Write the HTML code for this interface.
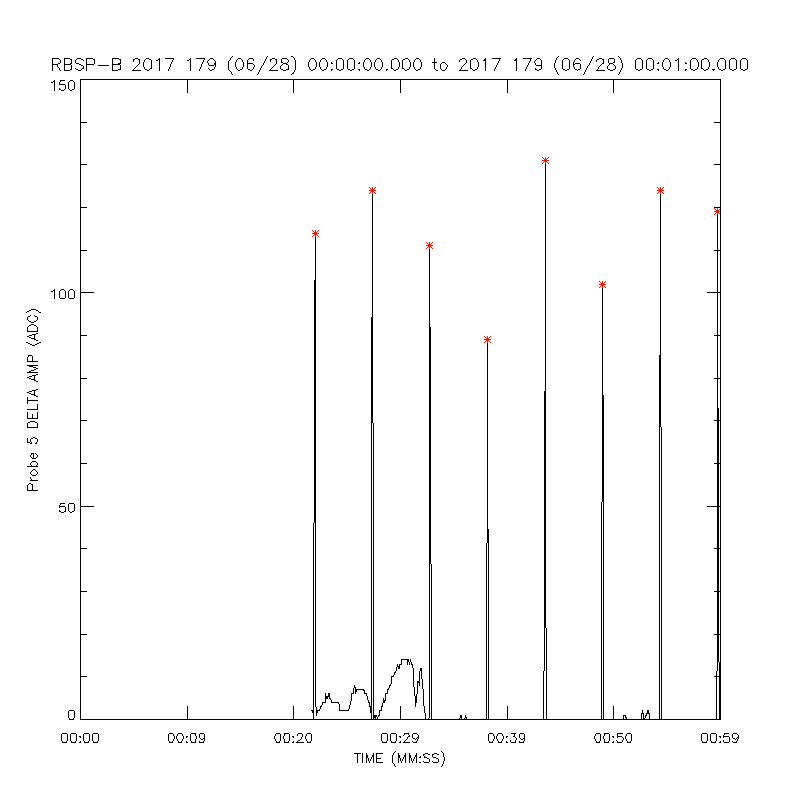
<!DOCTYPE html>
<html lang="en"><head><meta charset="utf-8"><title>RBSP-B 2017 179 (06/28) 00:00:00.000 to 2017 179 (06/28) 00:01:00.000</title>
<style>
html,body{margin:0;padding:0;background:#fff;}
body{width:800px;height:800px;position:relative;overflow:hidden;font-family:"Liberation Sans",sans-serif;}
svg{position:absolute;left:0;top:0;display:block;}
.t{position:absolute;color:transparent;font-size:11px;line-height:12px;text-align:center;white-space:nowrap;overflow:hidden;font-family:"Liberation Sans",sans-serif;}
</style></head><body>
<svg width="800" height="800" viewBox="0 0 800 800" shape-rendering="crispEdges">
<rect width="800" height="800" fill="#fff"/>
<path fill="#000" d="M232 56h1v1h-1zM267 56h1v1h-1zM291 56h2v1h-2zM558 56h1v1h-1zM593 56h1v1h-1zM618 56h1v1h-1zM231 57h1v1h-1zM266 57v2h1v-2zM293 57h1v1h-1zM557 57h1v1h-1zM592 57v2h1v-2zM619 57h1v1h-1zM52 58v13h1v-13zM53 58h6v1h-6zM64 58v13h1v-13zM65 58h5v1h-5zM77 58h4v1h-4zM86 58v13h1v-13zM87 58h6v1h-6zM112 58v13h1v-13zM113 58h6v1h-6zM135 58h3v1h-3zM146 58h3v1h-3zM159 58v13h1v-13zM165 58h9v1h-9zM190 58v13h1v-13zM196 58h9v1h-9zM210 58h3v1h-3zM230 58v2h1v-2zM238 58h3v1h-3zM249 58h4v1h-4zM272 58h3v1h-3zM282 58h5v1h-5zM294 58v2h1v-2zM311 58h3v1h-3zM322 58h3v1h-3zM338 58h4v1h-4zM349 58h4v1h-4zM366 58h3v1h-3zM377 58h3v1h-3zM394 58h3v1h-3zM405 58h3v1h-3zM416 58h3v1h-3zM434 58v11h1v-11zM462 58h3v1h-3zM473 58h3v1h-3zM485 58v13h1v-13zM492 58h9v1h-9zM516 58v13h1v-13zM523 58h9v1h-9zM537 58h3v1h-3zM556 58v2h1v-2zM564 58h4v1h-4zM576 58h3v1h-3zM599 58h3v1h-3zM609 58h5v1h-5zM620 58v2h1v-2zM637 58h4v1h-4zM648 58h4v1h-4zM665 58h3v1h-3zM678 58v13h1v-13zM692 58h4v1h-4zM704 58h3v1h-3zM720 58h4v1h-4zM731 58h4v1h-4zM742 58h4v1h-4zM59 59h1v1h-1zM70 59h2v1h-2zM76 59h1v1h-1zM81 59h2v1h-2zM93 59h2v1h-2zM119 59h2v1h-2zM133 59v3h1v-3zM134 59h1v1h-1zM138 59h2v1h-2zM145 59h1v1h-1zM149 59h2v1h-2zM158 59h1v1h-1zM173 59h1v1h-1zM189 59h1v1h-1zM204 59h1v1h-1zM209 59h1v1h-1zM213 59h1v1h-1zM237 59h1v1h-1zM241 59h1v1h-1zM248 59h1v1h-1zM253 59v2h1v-2zM265 59v2h1v-2zM270 59v3h1v-3zM271 59h1v1h-1zM275 59h2v1h-2zM281 59v4h1v-4zM287 59h1v1h-1zM310 59h1v1h-1zM314 59h1v1h-1zM321 59h1v1h-1zM325 59h1v1h-1zM337 59h1v1h-1zM342 59h1v1h-1zM348 59h1v1h-1zM353 59h1v1h-1zM365 59h1v1h-1zM369 59h1v1h-1zM376 59h1v1h-1zM380 59h1v1h-1zM392 59h2v1h-2zM397 59h1v1h-1zM403 59h2v1h-2zM408 59h1v1h-1zM415 59h1v1h-1zM419 59h1v1h-1zM460 59h2v1h-2zM465 59h1v1h-1zM471 59h2v1h-2zM476 59h1v1h-1zM484 59v2h1v-2zM499 59v2h1v-2zM515 59v2h1v-2zM530 59v2h1v-2zM536 59h1v1h-1zM540 59h1v1h-1zM563 59h1v1h-1zM568 59h1v1h-1zM575 59h1v1h-1zM579 59h1v1h-1zM591 59v2h1v-2zM597 59h2v1h-2zM602 59h2v1h-2zM608 59v4h1v-4zM614 59v4h1v-4zM636 59h1v1h-1zM641 59h1v1h-1zM647 59h1v1h-1zM652 59h1v1h-1zM664 59h1v1h-1zM668 59h1v1h-1zM677 59h1v1h-1zM691 59h1v1h-1zM696 59h1v1h-1zM702 59h2v1h-2zM707 59h1v1h-1zM719 59h1v1h-1zM724 59h1v1h-1zM730 59h1v1h-1zM735 59h1v1h-1zM741 59h1v1h-1zM746 59h1v1h-1zM60 60v3h1v-3zM71 60v4h1v-4zM75 60v3h1v-3zM83 60h1v1h-1zM94 60v4h1v-4zM120 60v4h1v-4zM139 60v4h1v-4zM144 60v2h1v-2zM151 60v9h1v-9zM156 60h2v1h-2zM172 60v2h1v-2zM187 60h2v1h-2zM203 60v2h1v-2zM208 60h1v1h-1zM214 60h1v1h-1zM229 60h1v1h-1zM236 60v2h1v-2zM242 60v2h1v-2zM247 60v9h1v-9zM276 60v4h1v-4zM288 60v2h1v-2zM295 60v10h1v-10zM309 60v2h1v-2zM315 60v2h1v-2zM320 60v2h1v-2zM326 60v2h1v-2zM336 60v9h1v-9zM343 60v9h1v-9zM347 60v9h1v-9zM354 60v9h1v-9zM364 60v2h1v-2zM370 60v2h1v-2zM375 60v2h1v-2zM381 60v2h1v-2zM391 60v9h1v-9zM398 60v2h1v-2zM402 60v9h1v-9zM409 60v2h1v-2zM414 60v2h1v-2zM420 60v2h1v-2zM459 60v2h1v-2zM466 60v3h1v-3zM470 60v9h1v-9zM477 60v2h1v-2zM483 60h1v1h-1zM514 60h1v1h-1zM535 60h1v1h-1zM541 60v9h1v-9zM555 60v3h1v-3zM562 60v9h1v-9zM569 60v9h1v-9zM574 60v2h1v-2zM580 60h1v1h-1zM596 60v2h1v-2zM603 60v4h1v-4zM621 60v3h1v-3zM635 60v9h1v-9zM642 60v9h1v-9zM646 60v9h1v-9zM653 60v9h1v-9zM663 60v2h1v-2zM669 60v2h1v-2zM675 60h2v1h-2zM690 60v9h1v-9zM697 60v2h1v-2zM701 60v9h1v-9zM708 60v2h1v-2zM718 60v2h1v-2zM725 60v9h1v-9zM729 60v9h1v-9zM736 60v9h1v-9zM740 60v9h1v-9zM747 60v9h1v-9zM207 61v2h1v-2zM215 61v6h1v-6zM228 61v9h1v-9zM264 61v2h1v-2zM498 61v2h1v-2zM529 61v2h1v-2zM534 61v2h1v-2zM590 61v2h1v-2zM143 62v5h1v-5zM171 62v2h1v-2zM202 62v2h1v-2zM235 62v5h1v-5zM243 62v5h1v-5zM282 62h1v1h-1zM287 62h1v1h-1zM308 62v5h1v-5zM316 62v5h1v-5zM319 62v5h1v-5zM327 62v5h1v-5zM331 62v2h1v-2zM359 62v2h1v-2zM363 62v5h1v-5zM371 62v5h1v-5zM374 62v5h1v-5zM382 62v5h1v-5zM399 62v5h1v-5zM410 62v5h1v-5zM413 62v5h1v-5zM421 62v5h1v-5zM432 62h2v1h-2zM435 62h2v1h-2zM442 62h3v1h-3zM478 62v5h1v-5zM573 62v5h1v-5zM613 62h1v1h-1zM658 62v2h1v-2zM662 62v5h1v-5zM670 62v5h1v-5zM685 62v2h1v-2zM698 62v5h1v-5zM709 62v5h1v-5zM717 62v5h1v-5zM58 63h2v1h-2zM70 63v2h1v-2zM76 63h3v1h-3zM118 63h2v1h-2zM208 63v2h1v-2zM214 63v2h1v-2zM248 63h5v1h-5zM263 63v2h1v-2zM283 63h4v1h-4zM332 63h1v1h-1zM358 63h1v1h-1zM441 63h1v1h-1zM445 63h1v1h-1zM465 63h1v1h-1zM497 63v2h1v-2zM528 63v2h1v-2zM535 63v2h1v-2zM554 63v5h1v-5zM575 63h5v1h-5zM589 63v2h1v-2zM602 63h1v1h-1zM609 63h4v1h-4zM622 63v5h1v-5zM657 63h1v1h-1zM686 63h1v1h-1zM53 64h5v1h-5zM65 64h5v1h-5zM79 64h2v1h-2zM87 64h7v1h-7zM113 64h7v1h-7zM138 64h1v1h-1zM170 64v3h1v-3zM201 64v3h1v-3zM253 64h1v1h-1zM275 64h1v1h-1zM282 64h1v1h-1zM286 64h2v1h-2zM440 64v5h1v-5zM446 64h1v1h-1zM464 64h1v1h-1zM574 64h1v1h-1zM580 64v5h1v-5zM601 64h1v1h-1zM609 64h1v1h-1zM613 64h1v1h-1zM57 65v2h1v-2zM71 65v5h1v-5zM81 65h2v1h-2zM98 65h11v1h-11zM120 65v5h1v-5zM137 65h1v1h-1zM209 65h5v1h-5zM254 65v2h1v-2zM262 65h1v1h-1zM274 65h1v1h-1zM281 65h1v1h-1zM288 65v5h1v-5zM447 65v2h1v-2zM463 65h1v1h-1zM496 65v2h1v-2zM527 65v2h1v-2zM536 65h5v1h-5zM588 65h1v1h-1zM600 65h1v1h-1zM608 65h1v1h-1zM614 65h1v1h-1zM83 66v3h1v-3zM136 66h1v1h-1zM261 66v2h1v-2zM273 66h1v1h-1zM280 66v3h1v-3zM462 66h1v1h-1zM587 66v2h1v-2zM599 66h1v1h-1zM607 66v3h1v-3zM615 66v3h1v-3zM58 67h1v1h-1zM135 67h1v1h-1zM144 67v2h1v-2zM169 67v2h1v-2zM200 67v2h1v-2zM214 67v2h1v-2zM236 67v2h1v-2zM242 67v2h1v-2zM253 67v2h1v-2zM272 67h1v1h-1zM309 67v2h1v-2zM315 67v2h1v-2zM320 67v2h1v-2zM326 67v2h1v-2zM364 67v2h1v-2zM370 67v2h1v-2zM375 67v2h1v-2zM381 67v2h1v-2zM398 67v2h1v-2zM409 67v2h1v-2zM414 67v2h1v-2zM420 67v2h1v-2zM446 67v2h1v-2zM461 67v2h1v-2zM477 67v2h1v-2zM495 67v2h1v-2zM526 67v2h1v-2zM574 67v2h1v-2zM598 67v2h1v-2zM663 67v2h1v-2zM669 67v2h1v-2zM697 67v2h1v-2zM708 67v2h1v-2zM718 67v2h1v-2zM59 68v2h1v-2zM75 68h1v1h-1zM82 68h1v1h-1zM134 68h1v1h-1zM150 68h1v1h-1zM208 68h1v1h-1zM260 68v2h1v-2zM271 68h1v1h-1zM392 68h1v1h-1zM403 68h1v1h-1zM471 68h1v1h-1zM535 68v2h1v-2zM555 68v2h1v-2zM586 68v2h1v-2zM621 68v2h1v-2zM702 68h1v1h-1zM70 69h1v1h-1zM76 69h2v1h-2zM81 69h1v1h-1zM118 69h2v1h-2zM133 69v2h1v-2zM145 69h2v1h-2zM149 69h1v1h-1zM168 69v2h1v-2zM199 69v2h1v-2zM209 69h1v1h-1zM212 69h2v1h-2zM237 69h1v1h-1zM240 69h2v1h-2zM248 69h2v1h-2zM252 69h1v1h-1zM270 69v2h1v-2zM281 69h2v1h-2zM286 69h2v1h-2zM310 69h1v1h-1zM313 69h2v1h-2zM321 69h1v1h-1zM324 69h2v1h-2zM331 69h2v1h-2zM337 69h2v1h-2zM341 69h2v1h-2zM348 69h2v1h-2zM352 69h2v1h-2zM358 69h2v1h-2zM365 69h2v1h-2zM369 69h1v1h-1zM376 69h2v1h-2zM380 69h1v1h-1zM386 69h2v1h-2zM393 69h1v1h-1zM396 69h2v1h-2zM404 69h1v1h-1zM407 69h2v1h-2zM415 69h1v1h-1zM418 69h2v1h-2zM435 69h1v1h-1zM441 69h1v1h-1zM445 69h1v1h-1zM460 69v2h1v-2zM472 69h1v1h-1zM475 69h2v1h-2zM494 69v2h1v-2zM525 69v2h1v-2zM536 69h1v1h-1zM539 69h2v1h-2zM563 69h2v1h-2zM567 69h2v1h-2zM575 69h2v1h-2zM578 69h2v1h-2zM597 69v2h1v-2zM608 69h2v1h-2zM613 69h2v1h-2zM636 69h2v1h-2zM640 69h2v1h-2zM647 69h2v1h-2zM651 69h2v1h-2zM657 69h2v1h-2zM664 69h2v1h-2zM668 69h1v1h-1zM685 69h2v1h-2zM691 69h2v1h-2zM695 69h2v1h-2zM703 69h1v1h-1zM706 69h2v1h-2zM712 69h3v1h-3zM719 69h2v1h-2zM723 69h2v1h-2zM730 69h2v1h-2zM734 69h2v1h-2zM741 69h2v1h-2zM745 69h2v1h-2zM60 70h1v1h-1zM65 70h5v1h-5zM78 70h3v1h-3zM113 70h5v1h-5zM132 70h1v1h-1zM134 70h7v1h-7zM147 70h2v1h-2zM210 70h2v1h-2zM229 70h1v1h-1zM238 70h2v1h-2zM250 70h2v1h-2zM259 70v2h1v-2zM269 70h1v1h-1zM271 70h7v1h-7zM283 70h3v1h-3zM294 70v2h1v-2zM311 70h2v1h-2zM322 70h2v1h-2zM331 70h1v1h-1zM339 70h2v1h-2zM350 70h2v1h-2zM359 70h1v1h-1zM367 70h2v1h-2zM378 70h2v1h-2zM386 70h1v1h-1zM394 70h2v1h-2zM405 70h2v1h-2zM416 70h2v1h-2zM436 70h2v1h-2zM442 70h3v1h-3zM459 70h1v1h-1zM461 70h7v1h-7zM473 70h2v1h-2zM537 70h2v1h-2zM556 70v2h1v-2zM565 70h2v1h-2zM577 70h1v1h-1zM585 70v2h1v-2zM596 70h1v1h-1zM598 70h7v1h-7zM610 70h3v1h-3zM620 70v2h1v-2zM638 70h2v1h-2zM649 70h2v1h-2zM658 70h1v1h-1zM666 70h2v1h-2zM685 70h1v1h-1zM693 70h2v1h-2zM704 70h2v1h-2zM713 70h1v1h-1zM721 70h2v1h-2zM732 70h2v1h-2zM743 70h2v1h-2zM230 71h1v1h-1zM231 72v2h1v-2zM258 72v2h1v-2zM293 72v2h1v-2zM557 72v2h1v-2zM584 72v2h1v-2zM619 72v2h1v-2zM292 73h1v1h-1zM232 74h1v1h-1zM257 74h1v1h-1zM291 74h1v1h-1zM558 74h1v1h-1zM583 74h1v1h-1zM618 74h1v1h-1zM80 79h641v1h-641zM54 80v11h1v-11zM60 80h5v1h-5zM70 80h3v1h-3zM80 80v640h1v-640zM187 80v13h1v-13zM293 80v13h1v-13zM400 80v13h1v-13zM507 80v13h1v-13zM613 80v13h1v-13zM720 80v640h1v-640zM53 81h1v1h-1zM60 81h1v1h-1zM69 81h1v1h-1zM73 81h1v1h-1zM51 82h2v1h-2zM59 82v3h1v-3zM68 82v7h1v-7zM74 82v7h1v-7zM60 84h5v1h-5zM65 85v4h1v-4zM59 88v2h1v-2zM60 89h1v1h-1zM64 89h1v1h-1zM69 89h1v1h-1zM72 89h2v1h-2zM61 90h3v1h-3zM70 90h2v1h-2zM81 122h6v1h-6zM714 122h6v1h-6zM81 164h6v1h-6zM545 164v464h1v-464zM714 164h6v1h-6zM372 194v229h1v-229zM660 194v233h1v-233zM81 207h6v1h-6zM714 207h6v1h-6zM717 215v456h1v-456zM315 237v470h1v-470zM429 249v469h1v-469zM81 250h6v1h-6zM714 250h3v1h-3zM718 250h2v1h-2zM314 280v243h1v-243zM602 288v214h1v-214zM54 289v10h1v-10zM61 289h3v1h-3zM70 289h3v1h-3zM53 290h1v1h-1zM60 290h1v1h-1zM64 290h1v1h-1zM69 290h1v1h-1zM73 290h1v1h-1zM51 291h2v1h-2zM59 291v7h1v-7zM65 291v7h1v-7zM68 291v7h1v-7zM74 291v7h1v-7zM81 292h13v1h-13zM707 292h10v1h-10zM718 292h2v1h-2zM60 298h5v1h-5zM69 298h5v1h-5zM31 309h5v1h-5zM29 310h2v1h-2zM36 310h2v1h-2zM27 311h2v1h-2zM38 311h1v1h-1zM26 312h1v1h-1zM39 312h2v1h-2zM30 315h1v1h-1zM34 315h1v1h-1zM28 316h2v1h-2zM35 316h2v1h-2zM27 317v3h1v-3zM37 317v3h1v-3zM371 317v403h1v-403zM28 320h1v1h-1zM36 320h1v1h-1zM29 321h2v1h-2zM34 321h2v1h-2zM31 322h3v1h-3zM31 324h3v1h-3zM29 325h2v1h-2zM34 325h2v1h-2zM28 326h1v1h-1zM36 326h1v1h-1zM27 327v5h1v-5zM37 327v5h1v-5zM430 327v237h1v-237zM28 331h9v1h-9zM36 333h2v1h-2zM32 334h4v1h-4zM29 335h3v1h-3zM34 335v5h1v-5zM81 335h6v1h-6zM714 335h3v1h-3zM718 335h2v1h-2zM27 336h2v1h-2zM29 337h2v1h-2zM31 338h3v1h-3zM35 339h1v1h-1zM36 340h2v1h-2zM26 342h2v1h-2zM39 342h2v1h-2zM28 343h2v1h-2zM37 343h2v1h-2zM487 343v200h1v-200zM30 344h2v1h-2zM35 344h2v1h-2zM32 345h3v1h-3zM28 355h4v1h-4zM659 355v365h1v-365zM28 356h1v1h-1zM32 356v6h1v-6zM27 357v5h1v-5zM28 361h4v1h-4zM33 361h5v1h-5zM27 365h11v1h-11zM29 366h4v1h-4zM33 367h3v1h-3zM36 368h2v1h-2zM34 369h2v1h-2zM31 370h3v1h-3zM29 371h2v1h-2zM27 372h11v1h-11zM36 374h2v1h-2zM32 375h4v1h-4zM29 376h3v1h-3zM34 376v5h1v-5zM27 377h2v1h-2zM29 378h2v1h-2zM81 378h6v1h-6zM714 378h3v1h-3zM718 378h2v1h-2zM31 379h3v1h-3zM35 380h1v1h-1zM36 381h2v1h-2zM36 389h2v1h-2zM32 390h4v1h-4zM29 391h3v1h-3zM34 391v5h1v-5zM544 391v280h1v-280zM27 392h2v1h-2zM29 393h2v1h-2zM31 394h3v1h-3zM35 395h1v1h-1zM603 395v325h1v-325zM36 396h2v1h-2zM27 397v7h1v-7zM28 400h10v1h-10zM37 404v6h1v-6zM718 408v254h1v-254zM27 409h10v1h-10zM27 412v7h1v-7zM37 412v7h1v-7zM32 414v5h1v-5zM28 418h4v1h-4zM33 418h4v1h-4zM81 420h6v1h-6zM714 420h3v1h-3zM719 420h1v1h-1zM30 421h5v1h-5zM28 422h2v1h-2zM35 422h2v1h-2zM27 423v5h1v-5zM37 423v5h1v-5zM373 423v297h1v-297zM28 427h9v1h-9zM661 427v293h1v-293zM33 437h2v1h-2zM27 438v5h1v-5zM31 438h2v1h-2zM35 438h2v1h-2zM30 439v3h1v-3zM37 439v3h1v-3zM28 442h2v1h-2zM31 442v2h1v-2zM36 442v2h1v-2zM30 443h1v1h-1zM35 443h1v1h-1zM31 453h3v1h-3zM35 453h1v1h-1zM31 454h1v1h-1zM33 454v5h1v-5zM36 454h1v1h-1zM30 455v2h1v-2zM37 455v2h1v-2zM31 457h1v1h-1zM36 457h1v1h-1zM32 458h1v1h-1zM34 458h2v1h-2zM32 461h4v1h-4zM31 462h1v1h-1zM36 462h1v1h-1zM30 463v2h1v-2zM37 463v2h1v-2zM81 463h6v1h-6zM714 463h3v1h-3zM719 463h1v1h-1zM31 465v2h1v-2zM36 465v2h1v-2zM27 466h4v1h-4zM32 466h4v1h-4zM37 466h1v1h-1zM33 469h2v1h-2zM32 470h1v1h-1zM35 470h1v1h-1zM31 471h1v1h-1zM36 471h1v1h-1zM30 472v2h1v-2zM37 472v2h1v-2zM31 474h1v1h-1zM36 474h1v1h-1zM32 475h4v1h-4zM30 477v2h1v-2zM31 479v2h1v-2zM30 480h1v1h-1zM32 480h6v1h-6zM29 483h2v1h-2zM28 484h1v1h-1zM31 484h2v1h-2zM27 485v6h1v-6zM32 485v6h1v-6zM28 490h4v1h-4zM33 490h5v1h-5zM601 502v218h1v-218zM60 503h5v1h-5zM69 503h5v1h-5zM60 504h1v1h-1zM68 504v7h1v-7zM74 504v7h1v-7zM59 505v3h1v-3zM60 506h5v1h-5zM81 506h13v1h-13zM707 506h10v1h-10zM719 506h1v1h-1zM65 507v5h1v-5zM59 510v2h1v-2zM60 511h1v1h-1zM64 511h1v1h-1zM69 511h1v1h-1zM72 511h2v1h-2zM61 512h3v1h-3zM70 512h2v1h-2zM313 523v197h1v-197zM488 529v191h1v-191zM486 543v177h1v-177zM81 548h6v1h-6zM714 548h3v1h-3zM719 548h1v1h-1zM431 564v156h1v-156zM81 591h6v1h-6zM714 591h3v1h-3zM719 591h1v1h-1zM546 628v92h1v-92zM81 634h6v1h-6zM714 634h3v1h-3zM719 634h1v1h-1zM401 659h8v1h-8zM410 659v3h1v-3zM401 660v5h1v-5zM407 660v5h1v-5zM408 660v2h1v-2zM409 662v3h1v-3zM411 662v3h1v-3zM719 662v58h1v-58zM397 664v3h1v-3zM399 664v5h1v-5zM400 664h1v1h-1zM412 664v4h1v-4zM398 666v3h1v-3zM396 667v4h1v-4zM413 668v19h1v-19zM420 668v3h1v-3zM421 668v11h1v-11zM395 671v2h1v-2zM419 671v15h1v-15zM543 671v49h1v-49zM716 671v49h1v-49zM394 672v3h1v-3zM393 675v2h1v-2zM81 676h6v1h-6zM391 676v8h1v-8zM392 676h1v1h-1zM714 676h2v1h-2zM717 676h2v1h-2zM422 679v10h1v-10zM417 681v13h1v-13zM418 681v2h1v-2zM390 684v2h1v-2zM354 685v3h1v-3zM389 685v3h1v-3zM355 687v7h1v-7zM414 687v9h1v-9zM353 688v6h1v-6zM388 688v2h1v-2zM356 689h8v1h-8zM387 689v5h1v-5zM423 689v17h1v-17zM356 690v2h1v-2zM363 690h2v1h-2zM364 691v3h1v-3zM325 693v10h1v-10zM328 693v4h1v-4zM329 693v6h1v-6zM351 693v8h1v-8zM352 693h1v1h-1zM365 693h2v1h-2zM385 693v8h1v-8zM386 693h1v1h-1zM366 694v2h1v-2zM416 694v9h1v-9zM326 696v3h1v-3zM327 696v3h1v-3zM367 696v4h1v-4zM415 696v11h1v-11zM330 698v2h1v-2zM383 698v5h1v-5zM331 700v3h1v-3zM368 700v3h1v-3zM384 700v3h1v-3zM350 701v4h1v-4zM322 702h3v1h-3zM332 702h7v1h-7zM369 702v5h1v-5zM322 703v2h1v-2zM338 703h1v1h-1zM382 703v4h1v-4zM339 704v7h1v-7zM321 705v2h1v-2zM349 705v4h1v-4zM187 706v14h1v-14zM293 706v14h1v-14zM320 706v3h1v-3zM370 706v7h1v-7zM381 706v5h1v-5zM400 706v14h1v-14zM424 706v7h1v-7zM507 706v14h1v-14zM613 706v14h1v-14zM316 707v9h1v-9zM319 709v2h1v-2zM348 709v2h1v-2zM69 710h5v1h-5zM311 710h2v1h-2zM317 710v3h1v-3zM318 710h1v1h-1zM340 710h8v1h-8zM379 710v6h1v-6zM380 710h1v1h-1zM642 710v4h1v-4zM647 710v4h1v-4zM648 710v4h1v-4zM68 711v7h1v-7zM74 711v7h1v-7zM312 711v2h1v-2zM425 713v7h1v-7zM641 713v7h1v-7zM643 713v7h1v-7zM646 713v3h1v-3zM649 713v7h1v-7zM374 715h3v1h-3zM378 715v2h1v-2zM460 715v3h1v-3zM461 715v5h1v-5zM465 715v3h1v-3zM623 715v5h1v-5zM624 715h2v1h-2zM645 715v3h1v-3zM374 716h3v1h-3zM625 716v2h1v-2zM374 717h2v1h-2zM377 717v3h1v-3zM466 717v3h1v-3zM626 717v3h1v-3zM69 718v2h1v-2zM73 718v2h1v-2zM375 718v2h1v-2zM428 718v2h1v-2zM459 718v2h1v-2zM464 718v2h1v-2zM644 718v2h1v-2zM70 719h3v1h-3zM81 719h106v1h-106zM188 719h105v1h-105zM294 719h19v1h-19zM314 719h57v1h-57zM372 719h1v1h-1zM374 719h1v1h-1zM376 719h1v1h-1zM378 719h22v1h-22zM401 719h24v1h-24zM426 719h2v1h-2zM429 719h2v1h-2zM432 719h27v1h-27zM460 719h1v1h-1zM462 719h2v1h-2zM465 719h1v1h-1zM467 719h19v1h-19zM487 719h1v1h-1zM489 719h18v1h-18zM508 719h35v1h-35zM544 719h2v1h-2zM547 719h54v1h-54zM602 719h1v1h-1zM604 719h9v1h-9zM614 719h9v1h-9zM624 719h2v1h-2zM627 719h14v1h-14zM642 719h1v1h-1zM645 719h4v1h-4zM650 719h9v1h-9zM660 719h1v1h-1zM662 719h54v1h-54zM717 719h2v1h-2zM62 733h5v1h-5zM71 733h5v1h-5zM84 733h5v1h-5zM93 733h5v1h-5zM169 733h4v1h-4zM178 733h4v1h-4zM191 733h5v1h-5zM200 733h4v1h-4zM276 733h4v1h-4zM284 733h5v1h-5zM298 733h4v1h-4zM307 733h4v1h-4zM382 733h5v1h-5zM391 733h5v1h-5zM404 733h5v1h-5zM413 733h4v1h-4zM489 733h4v1h-4zM498 733h4v1h-4zM511 733h5v1h-5zM520 733h4v1h-4zM596 733h4v1h-4zM604 733h5v1h-5zM617 733h6v1h-6zM627 733h4v1h-4zM702 733h5v1h-5zM711 733h5v1h-5zM724 733h5v1h-5zM733 733h4v1h-4zM61 734v7h1v-7zM67 734v7h1v-7zM70 734v7h1v-7zM76 734v7h1v-7zM83 734v7h1v-7zM89 734v7h1v-7zM92 734v7h1v-7zM98 734v7h1v-7zM168 734v7h1v-7zM173 734v2h1v-2zM177 734v2h1v-2zM182 734v2h1v-2zM190 734v7h1v-7zM195 734v2h1v-2zM199 734v4h1v-4zM204 734v7h1v-7zM275 734v2h1v-2zM280 734v7h1v-7zM284 734v2h1v-2zM289 734v7h1v-7zM297 734v2h1v-2zM302 734v3h1v-3zM306 734v2h1v-2zM311 734v7h1v-7zM381 734v7h1v-7zM387 734v7h1v-7zM390 734v7h1v-7zM396 734v7h1v-7zM404 734h1v1h-1zM408 734h1v1h-1zM412 734v4h1v-4zM417 734h1v1h-1zM488 734v7h1v-7zM493 734v2h1v-2zM497 734v2h1v-2zM502 734v2h1v-2zM514 734v3h1v-3zM519 734v4h1v-4zM524 734v7h1v-7zM595 734v2h1v-2zM600 734v7h1v-7zM604 734v2h1v-2zM609 734v7h1v-7zM617 734v4h1v-4zM626 734v2h1v-2zM631 734v7h1v-7zM701 734v7h1v-7zM707 734v7h1v-7zM710 734v7h1v-7zM716 734v7h1v-7zM724 734h1v1h-1zM732 734v4h1v-4zM737 734h1v1h-1zM403 735h1v1h-1zM409 735v2h1v-2zM418 735v4h1v-4zM723 735v3h1v-3zM738 735v4h1v-4zM79 736h2v1h-2zM174 736v3h1v-3zM176 736v3h1v-3zM183 736v3h1v-3zM186 736h2v1h-2zM196 736v3h1v-3zM274 736v3h1v-3zM283 736v3h1v-3zM292 736h2v1h-2zM305 736v3h1v-3zM399 736h2v1h-2zM408 736h1v1h-1zM494 736v3h1v-3zM496 736v3h1v-3zM503 736v3h1v-3zM506 736h2v1h-2zM513 736h1v1h-1zM594 736v3h1v-3zM603 736v3h1v-3zM612 736h2v1h-2zM618 736h4v1h-4zM625 736v3h1v-3zM719 736h2v1h-2zM724 736h5v1h-5zM80 737h1v1h-1zM186 737h1v1h-1zM293 737h1v1h-1zM301 737v2h1v-2zM400 737h1v1h-1zM407 737v2h1v-2zM417 737h1v1h-1zM506 737h1v1h-1zM515 737h1v1h-1zM613 737h1v1h-1zM622 737h1v1h-1zM720 737h1v1h-1zM729 737v5h1v-5zM737 737h1v1h-1zM200 738h1v1h-1zM203 738h1v1h-1zM413 738h2v1h-2zM416 738h1v1h-1zM516 738v2h1v-2zM520 738h1v1h-1zM523 738h1v1h-1zM623 738v2h1v-2zM733 738h2v1h-2zM736 738h1v1h-1zM173 739v2h1v-2zM177 739v2h1v-2zM182 739v2h1v-2zM195 739v4h1v-4zM201 739h2v1h-2zM275 739v2h1v-2zM284 739v4h1v-4zM300 739h1v1h-1zM306 739v2h1v-2zM406 739h1v1h-1zM415 739h1v1h-1zM417 739v2h1v-2zM493 739v2h1v-2zM497 739v2h1v-2zM502 739v2h1v-2zM521 739h2v1h-2zM595 739v2h1v-2zM604 739v4h1v-4zM626 739v2h1v-2zM735 739h1v1h-1zM737 739v2h1v-2zM298 740h2v1h-2zM405 740h1v1h-1zM510 740v2h1v-2zM515 740v3h1v-3zM616 740h1v1h-1zM622 740v2h1v-2zM723 740v2h1v-2zM62 741v2h1v-2zM66 741v2h1v-2zM71 741v2h1v-2zM75 741v2h1v-2zM80 741v2h1v-2zM84 741v2h1v-2zM88 741v2h1v-2zM93 741v2h1v-2zM97 741v2h1v-2zM169 741v2h1v-2zM172 741v2h1v-2zM178 741v2h1v-2zM181 741v2h1v-2zM186 741v2h1v-2zM191 741v2h1v-2zM199 741v2h1v-2zM203 741v2h1v-2zM276 741v2h1v-2zM279 741v2h1v-2zM288 741v2h1v-2zM293 741v2h1v-2zM297 741v2h1v-2zM307 741v2h1v-2zM310 741v2h1v-2zM382 741v2h1v-2zM386 741v2h1v-2zM391 741v2h1v-2zM395 741v2h1v-2zM400 741v2h1v-2zM404 741v2h1v-2zM412 741h1v1h-1zM416 741v2h1v-2zM489 741v2h1v-2zM492 741v2h1v-2zM498 741v2h1v-2zM501 741v2h1v-2zM506 741v2h1v-2zM519 741v2h1v-2zM523 741v2h1v-2zM596 741v2h1v-2zM599 741v2h1v-2zM608 741v2h1v-2zM613 741v2h1v-2zM617 741v2h1v-2zM627 741v2h1v-2zM630 741v2h1v-2zM702 741v2h1v-2zM706 741v2h1v-2zM711 741v2h1v-2zM715 741v2h1v-2zM720 741v2h1v-2zM732 741h1v1h-1zM736 741v2h1v-2zM63 742h3v1h-3zM72 742h3v1h-3zM79 742h1v1h-1zM85 742h3v1h-3zM94 742h3v1h-3zM170 742h2v1h-2zM179 742h2v1h-2zM187 742h1v1h-1zM192 742h3v1h-3zM200 742h3v1h-3zM277 742h2v1h-2zM285 742h3v1h-3zM292 742h1v1h-1zM296 742h1v1h-1zM298 742h6v1h-6zM308 742h2v1h-2zM383 742h3v1h-3zM392 742h3v1h-3zM399 742h1v1h-1zM403 742h1v1h-1zM405 742h5v1h-5zM413 742h3v1h-3zM490 742h2v1h-2zM499 742h2v1h-2zM507 742h1v1h-1zM511 742h4v1h-4zM520 742h3v1h-3zM597 742h2v1h-2zM605 742h3v1h-3zM612 742h1v1h-1zM618 742h4v1h-4zM628 742h2v1h-2zM703 742h3v1h-3zM712 742h3v1h-3zM719 742h1v1h-1zM724 742h5v1h-5zM733 742h3v1h-3zM395 751h1v1h-1zM441 751h1v1h-1zM394 752h1v1h-1zM442 752h1v1h-1zM354 753h7v1h-7zM362 753v10h1v-10zM366 753v10h1v-10zM373 753v10h1v-10zM376 753v10h1v-10zM377 753h6v1h-6zM393 753v2h1v-2zM398 753v10h1v-10zM405 753v10h1v-10zM409 753v10h1v-10zM416 753v10h1v-10zM425 753h3v1h-3zM434 753h3v1h-3zM443 753v4h1v-4zM357 754v9h1v-9zM423 754h2v1h-2zM428 754h2v1h-2zM432 754v3h1v-3zM433 754h1v1h-1zM437 754h2v1h-2zM367 755v3h1v-3zM372 755v2h1v-2zM392 755v8h1v-8zM399 755v3h1v-3zM404 755v2h1v-2zM410 755v3h1v-3zM415 755v2h1v-2zM423 755h1v1h-1zM420 756v2h1v-2zM424 756v2h1v-2zM371 757v2h1v-2zM403 757v2h1v-2zM414 757v2h1v-2zM419 757h1v1h-1zM425 757h2v1h-2zM433 757h3v1h-3zM444 757v4h1v-4zM368 758v3h1v-3zM377 758h4v1h-4zM400 758v3h1v-3zM411 758v3h1v-3zM427 758h2v1h-2zM436 758h2v1h-2zM370 759v2h1v-2zM402 759v2h1v-2zM413 759v2h1v-2zM429 759v3h1v-3zM438 759v3h1v-3zM369 761v2h1v-2zM401 761v2h1v-2zM412 761v2h1v-2zM423 761h1v1h-1zM432 761h1v1h-1zM443 761v3h1v-3zM377 762h6v1h-6zM419 762h2v1h-2zM424 762h5v1h-5zM433 762h5v1h-5zM393 763h1v1h-1zM394 764v2h1v-2zM442 764v2h1v-2zM395 766h1v1h-1zM441 766h1v1h-1z"/>
<path fill="#ff1400" d="M542 157h1v1h-1zM545 157v7h1v-7zM548 157h1v1h-1zM543 158h1v1h-1zM547 158h1v1h-1zM544 159v3h1v-3zM546 159v3h1v-3zM542 160h2v1h-2zM547 160h2v1h-2zM543 162h1v1h-1zM547 162h1v1h-1zM542 163h1v1h-1zM548 163h1v1h-1zM369 187h1v1h-1zM372 187v7h1v-7zM375 187h1v1h-1zM657 187h1v1h-1zM660 187v7h1v-7zM663 187h1v1h-1zM370 188h1v1h-1zM374 188h1v1h-1zM658 188h1v1h-1zM662 188h1v1h-1zM371 189v3h1v-3zM373 189v3h1v-3zM659 189v3h1v-3zM661 189v3h1v-3zM369 190h2v1h-2zM374 190h2v1h-2zM657 190h2v1h-2zM662 190h2v1h-2zM370 192h1v1h-1zM374 192h1v1h-1zM658 192h1v1h-1zM662 192h1v1h-1zM369 193h1v1h-1zM375 193h1v1h-1zM657 193h1v1h-1zM663 193h1v1h-1zM714 208h1v1h-1zM717 208v7h1v-7zM715 209h1v1h-1zM719 209h1v1h-1zM716 210v3h1v-3zM718 210v3h1v-3zM714 211h2v1h-2zM719 211h1v1h-1zM715 213h1v1h-1zM719 213h1v1h-1zM714 214h1v1h-1zM312 230h1v1h-1zM315 230v7h1v-7zM318 230h1v1h-1zM313 231h1v1h-1zM317 231h1v1h-1zM314 232v3h1v-3zM316 232v3h1v-3zM312 233h2v1h-2zM317 233h2v1h-2zM313 235h1v1h-1zM317 235h1v1h-1zM312 236h1v1h-1zM318 236h1v1h-1zM426 242h1v1h-1zM429 242v7h1v-7zM432 242h1v1h-1zM427 243h1v1h-1zM431 243h1v1h-1zM428 244v3h1v-3zM430 244v3h1v-3zM426 245h2v1h-2zM431 245h2v1h-2zM427 247h1v1h-1zM431 247h1v1h-1zM426 248h1v1h-1zM432 248h1v1h-1zM599 281h1v1h-1zM602 281v7h1v-7zM605 281h1v1h-1zM600 282h1v1h-1zM604 282h1v1h-1zM601 283v3h1v-3zM603 283v3h1v-3zM599 284h2v1h-2zM604 284h2v1h-2zM600 286h1v1h-1zM604 286h1v1h-1zM599 287h1v1h-1zM605 287h1v1h-1zM484 336h1v1h-1zM487 336v7h1v-7zM490 336h1v1h-1zM485 337h1v1h-1zM489 337h1v1h-1zM486 338v3h1v-3zM488 338v3h1v-3zM484 339h2v1h-2zM489 339h2v1h-2zM485 341h1v1h-1zM489 341h1v1h-1zM484 342h1v1h-1zM490 342h1v1h-1z"/>
</svg>
<div class="t" style="left:50px;top:56px;width:700px;height:16px;font-size:14px">RBSP-B 2017 179 (06/28) 00:00:00.000 to 2017 179 (06/28) 00:01:00.000</div>
<div class="t" style="left:60px;top:732px;width:40px;height:12px;">00:00</div>
<div class="t" style="left:167px;top:732px;width:40px;height:12px;">00:09</div>
<div class="t" style="left:273px;top:732px;width:40px;height:12px;">00:20</div>
<div class="t" style="left:380px;top:732px;width:40px;height:12px;">00:29</div>
<div class="t" style="left:487px;top:732px;width:40px;height:12px;">00:39</div>
<div class="t" style="left:593px;top:732px;width:40px;height:12px;">00:50</div>
<div class="t" style="left:700px;top:732px;width:40px;height:12px;">00:59</div>
<div class="t" style="left:46px;top:709.15px;width:30px;height:12px;text-align:right">0</div>
<div class="t" style="left:46px;top:501.85px;width:30px;height:12px;text-align:right">50</div>
<div class="t" style="left:46px;top:288.48px;width:30px;height:12px;text-align:right">100</div>
<div class="t" style="left:46px;top:79.73px;width:30px;height:12px;text-align:right">150</div>
<div class="t" style="left:350px;top:752px;width:100px;height:12px;">TIME (MM:SS)</div>
<div class="t" style="left:-68px;top:392px;width:200px;height:12px;transform:rotate(-90deg)">Probe 5 DELTA AMP (ADC)</div>
</body></html>
